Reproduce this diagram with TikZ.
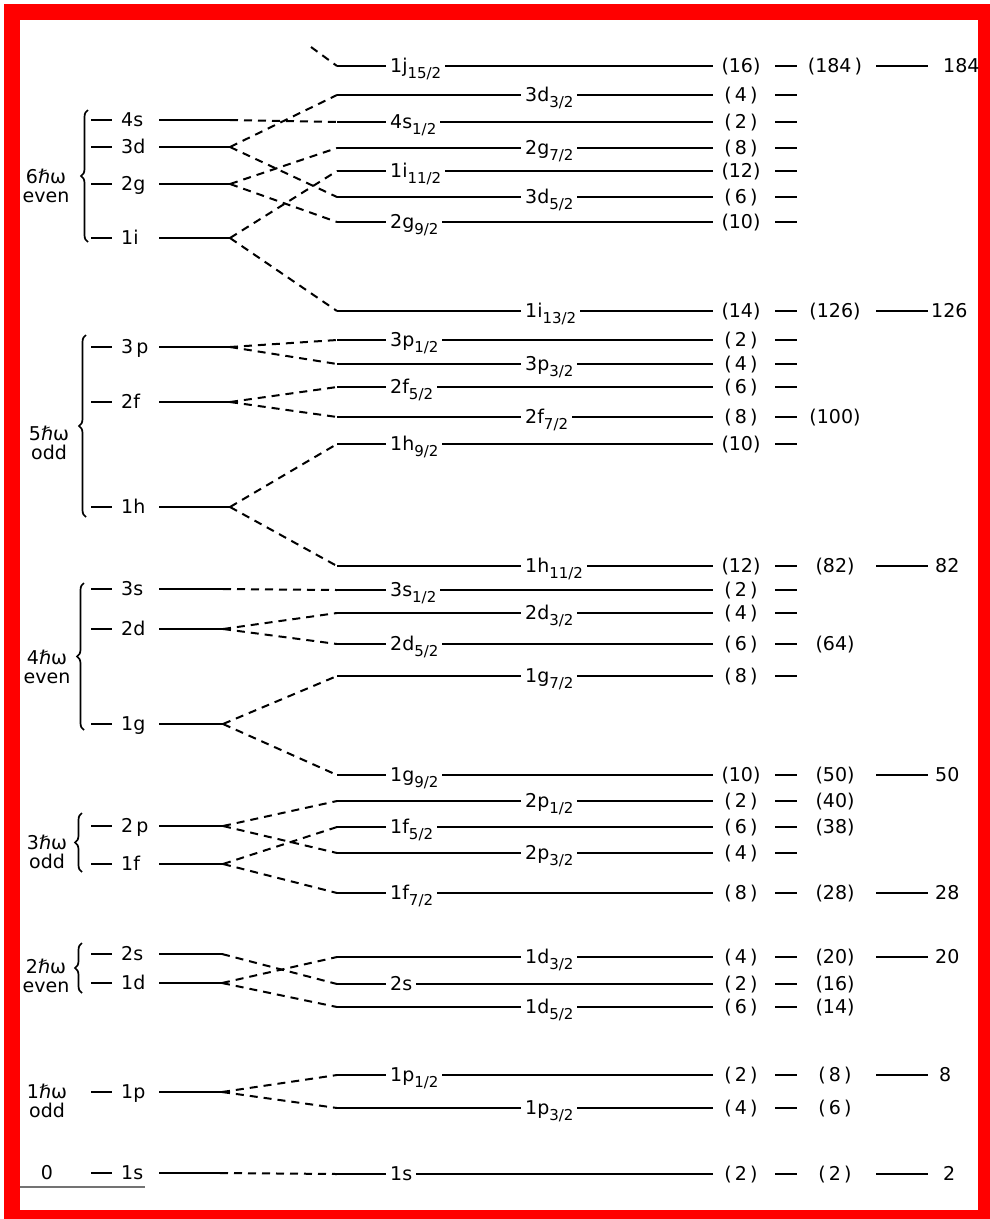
\documentclass[tikz,border=0pt]{standalone}
\usepackage{fontspec}
\setmainfont{DejaVu Sans}
\usetikzlibrary{decorations.pathreplacing}
\newcommand{\sub}[1]{\raisebox{-6pt}{\fontsize{15}{15}\selectfont #1}}
\newcommand{\hw}{ℏω}

\begin{document}
\begin{tikzpicture}[
    x=1pt, y=-1pt,
    lvl/.style={line width=2.4pt},
    conn/.style={line width=2pt, dash pattern=on 8pt off 6pt},
    osc/.style={anchor=base west, font=\fontsize{19}{21}\selectfont, inner sep=0pt},
    jlab/.style={anchor=base west, fill=white, inner xsep=4pt, inner ysep=1pt,
        font=\fontsize{19}{21}\selectfont},
    deg/.style={anchor=base, font=\fontsize{19}{21}\selectfont, inner sep=0pt},
    shell/.style={align=center, font=\fontsize{19}{19}\selectfont, inner sep=0pt},
    brc/.style={decorate, decoration={brace, amplitude=7pt}, line width=1.7pt},
]
\useasboundingbox (0,0) rectangle (990,1219);
\fill[red] (4,4) rectangle (990,1219);
\fill[white] (20,20) rectangle (978,1210);

% oscillator levels
\foreach \n/\lab/\y/\xe in {4s/4s/120/230, 3d/3d/147/230, 2g/2g/184/230, 1i/1i/238/230,
    3p/3\,p/347/230, 2f/2f/402/230, 1h/1h/507/230,
    3s/3s/589/223, 2d/2d/629/223, 1g/1g/724/223,
    2p/2\,p/826/223, 1f/1f/864/223,
    2s/2s/954/222, 1d/1d/983/222, 1p/1p/1092/222, 1s/1s/1173/220} {
    \draw[lvl] (91,\y) -- (112,\y);
    \node[osc] (l\n) at (121,\y+6.5) {\lab};
    \draw[lvl] (159,\y) -- (\xe,\y) coordinate (o\n);
}

% spin-orbit levels
\foreach \n/\lab/\xl/\y/\d in {1j/1j\sub{15/2}/386/66/16, 3d3/3d\sub{3/2}/521/95/4,
    4s1/4s\sub{1/2}/386/122/2, 2g7/2g\sub{7/2}/521/148/8,
    1i11/1i\sub{11/2}/386/171/12, 3d5/3d\sub{5/2}/521/197/6,
    2g9/2g\sub{9/2}/386/222/10, 1i13/1i\sub{13/2}/521/311/14,
    3p1/3p\sub{1/2}/386/340/2, 3p3/3p\sub{3/2}/521/364/4,
    2f5/2f\sub{5/2}/386/387/6, 2f7/2f\sub{7/2}/521/417/8,
    1h9/1h\sub{9/2}/386/444/10, 1h11/1h\sub{11/2}/521/566/12,
    3s1/3s\sub{1/2}/386/590/2, 2d3/2d\sub{3/2}/521/613/4,
    2d5/2d\sub{5/2}/386/644/6, 1g7/1g\sub{7/2}/521/676/8,
    1g9/1g\sub{9/2}/386/775/10, 2p1/2p\sub{1/2}/521/801/2,
    1f5/1f\sub{5/2}/386/827/6, 2p3/2p\sub{3/2}/521/853/4,
    1f7/1f\sub{7/2}/386/893/8, 1d3/1d\sub{3/2}/521/957/4,
    2s1/2s\sub{}/386/984/2, 1d5/1d\sub{5/2}/521/1007/6,
    1p1/1p\sub{1/2}/386/1075/2, 1p3/1p\sub{3/2}/521/1108/4,
    1s1/1s\sub{}/386/1174/2} {
    \draw[lvl] (337,\y) coordinate (s\n) -- (713,\y);
    \node[jlab] (j\n) at (\xl,\y+6.5) {\lab};
    \node[deg] (d\n) at (741,\y+6.5) {(\ifnum\d<10 \,\d\,\else\d\fi)};
    \draw[lvl] (775,\y) -- (797,\y);
}

% closed shells
\foreach \y/\m in {66/{184\,}, 311/126, 417/100, 566/82, 644/64, 775/50, 801/40,
    827/38, 893/28, 957/20, 984/16, 1007/14, 1075/\,8\,, 1108/\,6\,, 1174/\,2\,} {
    \node[deg] (m\y) at (835,\y+6.5) {(\m)};
}
\foreach \y/\x/\m in {66/943/184, 311/931/126, 566/935/82, 775/935/50, 893/935/28,
    957/935/20, 1075/939/8, 1174/943/2} {
    \draw[lvl] (876,\y) -- (928,\y);
    \node[osc] (n\y) at (\x,\y+6.5) {\m};
}

% splitting
\coordinate (top) at (311,47);
\draw[conn] (top) -- (s1j);
\draw[conn] (o4s) -- (s4s1);
\foreach \a/\b in {3d/3d3, 3d/3d5, 2g/2g7, 2g/2g9, 1i/1i11, 1i/1i13,
    3p/3p1, 3p/3p3, 2f/2f5, 2f/2f7, 1h/1h9, 1h/1h11,
    3s/3s1, 2d/2d3, 2d/2d5, 1g/1g7, 1g/1g9,
    2p/2p1, 2p/2p3, 1f/1f5, 1f/1f7,
    2s/2s1, 1d/1d3, 1d/1d5, 1p/1p1, 1p/1p3, 1s/1s1} {
    \draw[conn] (o\a) -- (s\b);
}

% major shells
\draw[brc] (88,242) -- (88,110);
\node[shell] (N6) at (46,186) {6\hw\\even};
\draw[brc] (86,517) -- (86,335);
\node[shell] (N5) at (49,443) {5\hw\\odd};
\draw[brc] (84,730) -- (84,583);
\node[shell] (N4) at (47,667) {4\hw\\even};
\draw[brc] (82,872) -- (82,813);
\node[shell] (N3) at (47,852) {3\hw\\odd};
\draw[brc] (82,993) -- (82,943);
\node[shell] (N2) at (46,976) {2\hw\\even};
\node[shell] (N1) at (47,1101) {1\hw\\odd};
\node[shell] (N0) at (47,1173) {0};
\draw[black!55, line width=1.5pt] (20,1187) -- (145,1187);
\end{tikzpicture}
\end{document}
